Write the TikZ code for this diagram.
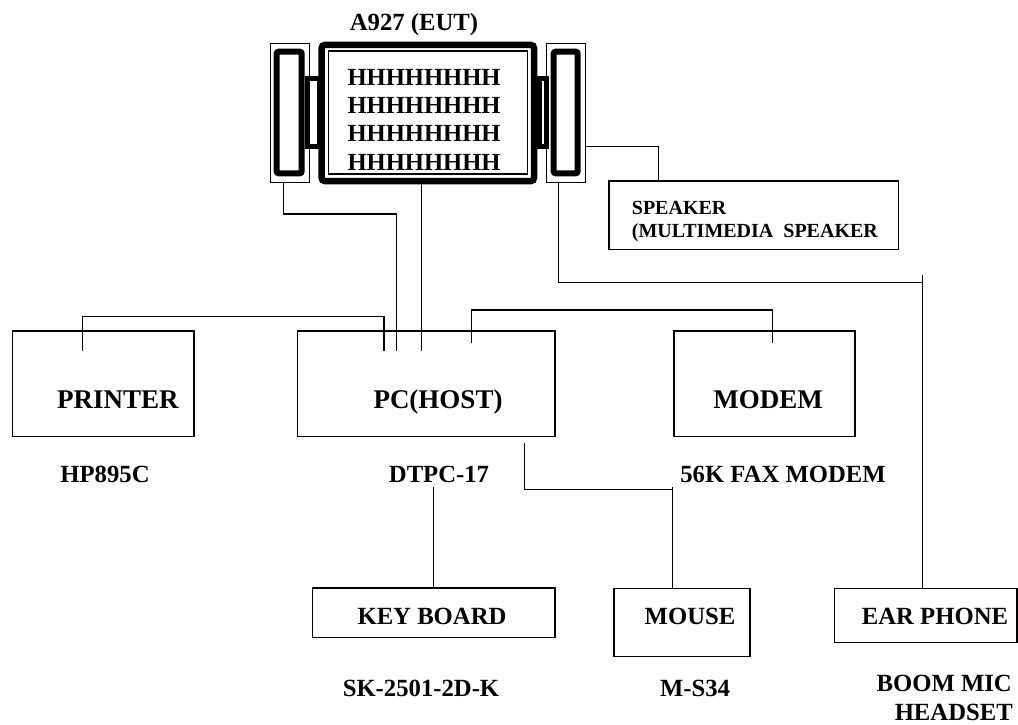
\documentclass[tikz,border=0pt]{standalone}
\usepackage{fontspec}
\setmainfont{Liberation Serif}
\usetikzlibrary{positioning, calc}

\tikzset{
  unit/.style={draw, line width=1.4pt, inner sep=0pt},
  wire/.style={line width=1.4pt},
  boxtext/.style={font=\fontsize{27}{32}\selectfont\bfseries, anchor=base, inner sep=0pt},
  lbl/.style={font=\fontsize{24.7}{29}\selectfont\bfseries, anchor=base, inner sep=0pt},
  spktext/.style={font=\fontsize{20}{24}\selectfont\bfseries, anchor=base west, inner sep=0pt},
}

\begin{document}
\begin{tikzpicture}[x=1pt, y=-1pt]
        \useasboundingbox (0,0) rectangle (1018,725);
        % EUT monitor with speakers
        \node[lbl] (eutT) at (414,31) {A927 (EUT)};
        \node[draw, line width=5pt, minimum width=11.7pt, minimum height=68.3pt, inner sep=0pt] (ljoint) at (313.4,112.7) {};
        \node[draw, line width=5pt, minimum width=7pt, minimum height=68.3pt, inner sep=0pt] (rjoint) at (543.3,112.7) {};
        \node[draw, line width=6.5pt, rounded corners=3pt, minimum width=212.3pt, minimum height=136pt, inner sep=0pt] (eut) at (427.85,113) {};
        \node[draw, line width=1.2pt, minimum width=199pt, minimum height=123pt, inner sep=0pt] (screen) at (428,112.5) {};
        \node[draw, line width=1pt, minimum width=39.3pt, minimum height=138.7pt, inner sep=0pt] (lspk) at (289.65,113.35) {};
        \node[draw, line width=6pt, rounded corners=2pt, minimum width=25pt, minimum height=121.6pt, inner sep=0pt] (lcone) at (289.2,112.5) {};
        \node[draw, line width=1pt, minimum width=38.3pt, minimum height=138.7pt, inner sep=0pt] (rspk) at (565.85,113.35) {};
        \node[draw, line width=6pt, rounded corners=2pt, minimum width=24pt, minimum height=121.6pt, inner sep=0pt] (rcone) at (565.7,112.5) {};
        \foreach \row/\yy in {1/85, 2/113.3, 3/141.7, 4/170}
            \node[lbl, font=\fontsize{24.6}{29}\selectfont\bfseries, anchor=base west] (hrow\row) at (347.3,\yy) {HHHHHHHH};
        % Speaker
        \node[unit, minimum width=289.3pt, minimum height=68.3pt] (spk) at (753.65,215.15) {};
        \node[spktext] (spkT1) at (631.7,214) {SPEAKER};
        \node[spktext] (spkT2) at (631.7,237) {(MULTIMEDIA\ \ SPEAKER};
        % Printer, PC, modem
        \node[unit, minimum width=181.7pt, minimum height=105.7pt] (printer) at (103.15,383.85) {};
        \node[boxtext] (printerT) at (118,408) {PRINTER};
        \node[lbl] (printerL) at (105,482) {HP895C};
        \node[unit, minimum width=257.7pt, minimum height=105.7pt] (pc) at (426.15,383.85) {};
        \node[boxtext] (pcT) at (438,408) {PC(HOST)};
        \node[lbl] (pcL) at (439,482) {DTPC-17};
        \node[unit, minimum width=181pt, minimum height=105.7pt] (modem) at (764.5,383.85) {};
        \node[boxtext] (modemT) at (768,408) {MODEM};
        \node[lbl] (modemL) at (783,482) {56K FAX MODEM};
        % Keyboard, mouse, ear phone
        \node[unit, minimum width=242.3pt, minimum height=49.5pt] (kb) at (433.85,612.75) {};
        \node[lbl] (kbT) at (432,624) {KEY BOARD};
        \node[lbl] (kbL) at (421,696) {SK-2501-2D-K};
        \node[unit, minimum width=136pt, minimum height=68.4pt] (mouse) at (682,622.5) {};
        \node[lbl] (mouseT) at (690,624.5) {MOUSE};
        \node[lbl] (mouseL) at (695,696) {M-S34};
        \node[unit, minimum width=182.7pt, minimum height=54pt] (ep) at (925.65,615.3) {};
        \node[lbl] (epT) at (935,624.5) {EAR PHONE};
        \node[lbl, anchor=base east] (epL1) at (1012,691) {BOOM MIC};
        \node[lbl, anchor=base east] (epL2) at (1013,720.5) {HEADSET};
        % Ports
        \coordinate (lsOut) at (283.3,182.7);
        \coordinate (mnOut) at (421.7,184.3);
        \coordinate (rsOut) at (558.3,182.7);
        \coordinate (rsSide) at (585,146.7);
        \coordinate (spIn) at (658.3,181);
        \coordinate (prIn) at (82.7,350.7);
        \coordinate (pcA) at (384,350.7);
        \coordinate (pcB) at (396.7,350.7);
        \coordinate (pcC) at (421.7,350.7);
        \coordinate (pcD) at (471.7,343);
        \coordinate (mdIn) at (772.3,343);
        \coordinate (pcE) at (524.3,443);
        \coordinate (kbTop) at (433.5,486.7);
        \coordinate (msIn) at (672.7,588.3);
        \coordinate (epIn) at (922.7,588.3);
        % Cables
        \draw[wire] (rsSide) -| (spIn);
        \draw[wire] (lsOut) -- ++(0,31.3) -| (pcB);
        \draw[wire] (mnOut) -- (pcC);
        \draw[wire] (rsOut) -- ++(0,100) -| (epIn);
        \draw[wire] (epIn) -- ++(0,-313.3);
        \draw[wire] (prIn) -- ++(0,-34) -| (pcA);
        \draw[wire] (pcD) -- ++(0,-33) -| (mdIn);
        \draw[wire] (pcE) -- ++(0,46.3) -| (msIn);
        \draw[wire] (msIn) -- ++(0,-101.6);
        \draw[wire] (kbTop) -- (kbTop |- kb.north);
    \end{tikzpicture}
\end{document}
